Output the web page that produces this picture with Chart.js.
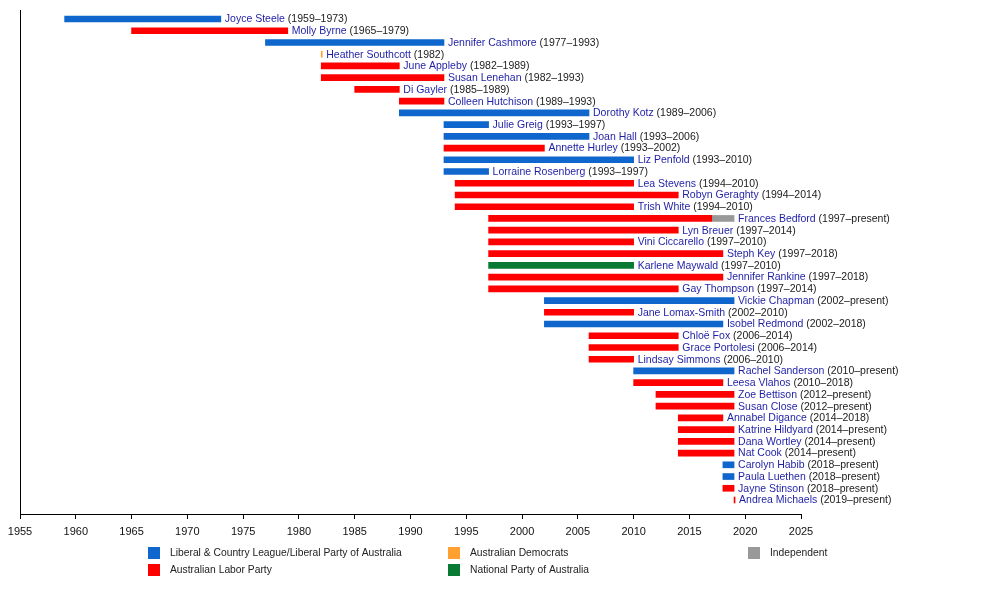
<!DOCTYPE html>
<html>
<head>
<meta charset="utf-8">
<script src="https://cdn.jsdelivr.net/npm/chart.js@4.4.1/dist/chart.umd.min.js"></script>
<style>
  html, body { margin: 0; padding: 0; background: #fff; }
  #wrap { width: 1000px; height: 594px; position: relative; }
</style>
</head>
<body>
<div id="wrap"><canvas id="c" width="1000" height="594"></canvas></div>
<script>
// ---------------- DATA ----------------
const PRESENT = 2019;
const names = [
  'Joyce Steele', 'Molly Byrne', 'Jennifer Cashmore', 'Heather Southcott', 'June Appleby',
  'Susan Lenehan', 'Di Gayler', 'Colleen Hutchison', 'Dorothy Kotz', 'Julie Greig',
  'Joan Hall', 'Annette Hurley', 'Liz Penfold', 'Lorraine Rosenberg', 'Lea Stevens',
  'Robyn Geraghty', 'Trish White', 'Frances Bedford', 'Lyn Breuer', 'Vini Ciccarello',
  'Steph Key', 'Karlene Maywald', 'Jennifer Rankine', 'Gay Thompson', 'Vickie Chapman',
  'Jane Lomax-Smith', 'Isobel Redmond', 'Chloë Fox', 'Grace Portolesi', 'Lindsay Simmons',
  'Rachel Sanderson', 'Leesa Vlahos', 'Zoe Bettison', 'Susan Close', 'Annabel Digance',
  'Katrine Hildyard', 'Dana Wortley', 'Nat Cook', 'Carolyn Habib', 'Paula Luethen',
  'Jayne Stinson', 'Andrea Michaels'
];
const startYears = [
  1959, 1965, 1977, 1982, 1982, 1982, 1985, 1989, 1989, 1993,
  1993, 1993, 1993, 1993, 1994, 1994, 1994, 1997, 1997, 1997,
  1997, 1997, 1997, 1997, 2002, 2002, 2002, 2006, 2006, 2006,
  2010, 2010, 2012, 2012, 2014, 2014, 2014, 2014, 2018, 2018,
  2018, 2019
];
// null = still serving ("present")
const endYears = [
  1973, 1979, 1993, 1982, 1989, 1993, 1989, 1993, 2006, 1997,
  2006, 2002, 2010, 1997, 2010, 2014, 2010, null, 2014, 2010,
  2018, 2010, 2018, 2014, null, 2010, 2018, 2014, 2014, 2010,
  null, 2018, null, null, 2018, null, null, null, null, null,
  null, null
];
const parties = [
  'Liberal', 'Labor', 'Liberal', 'Democrats', 'Labor', 'Labor', 'Labor', 'Labor', 'Liberal', 'Liberal',
  'Liberal', 'Labor', 'Liberal', 'Liberal', 'Labor', 'Labor', 'Labor', 'Labor', 'Labor', 'Labor',
  'Labor', 'National', 'Labor', 'Labor', 'Liberal', 'Labor', 'Liberal', 'Labor', 'Labor', 'Labor',
  'Liberal', 'Labor', 'Labor', 'Labor', 'Labor', 'Labor', 'Labor', 'Labor', 'Liberal', 'Liberal',
  'Labor', 'Labor'
];
// later change of party: member, year, new party
const partyChanges = [
  { name: 'Frances Bedford', year: 2017, party: 'Independent' }
];
const partyKeys = ['Liberal', 'Labor', 'Democrats', 'National', 'Independent'];
const partyNames = [
  'Liberal & Country League/Liberal Party of Australia',
  'Australian Labor Party',
  'Australian Democrats',
  'National Party of Australia',
  'Independent'
];
const tickStart = 1955, tickEnd = 2025, tickStep = 5;

// ---------------- STYLE ----------------
const partyColors = {
  Liberal: '#0f66cc',
  Labor: '#ff0000',
  Democrats: '#ffa030',
  National: '#087a34',
  Independent: '#999999'
};
const FONT = '"Liberation Sans", Arial, sans-serif';

// ---------------- BUILD ----------------
function segmentsFor(i) {
  const end = endYears[i] === null ? PRESENT : endYears[i];
  const ch = partyChanges.find(c => c.name === names[i]);
  if (ch) {
    return [
      { party: parties[i], s: startYears[i], e: ch.year },
      { party: ch.party, s: ch.year, e: end }
    ];
  }
  return [{ party: parties[i], s: startYears[i], e: end }];
}

const datasets = partyKeys.map(p => {
  const data = [];
  names.forEach((n, i) => {
    segmentsFor(i).forEach(seg => {
      if (seg.party === p) data.push({ x: [seg.s, seg.e], y: i });
    });
  });
  return {
    label: p,
    data,
    backgroundColor: partyColors[p],
    borderWidth: 0,
    barThickness: 6,
    minBarLength: 1,
    grouped: false
  };
});

const rowLabels = {
  id: 'rowLabels',
  afterDatasetsDraw(chart) {
    const ctx = chart.ctx;
    const xs = chart.scales.x, ys = chart.scales.y;
    ctx.save();
    ctx.textBaseline = 'middle';
    ctx.textAlign = 'left';
    names.forEach((n, i) => {
      const end = endYears[i] === null ? PRESENT : endYears[i];
      let x = xs.getPixelForValue(end) + 4;
      if (startYears[i] === end) x += 1;
      const y = ys.getPixelForValue(i) + 0.5;
      ctx.font = '10.5px ' + FONT;
      ctx.fillStyle = '#1e1ea6';
      ctx.fillText(n, x, y);
      const w = ctx.measureText(n + ' ').width;
      let yr;
      if (endYears[i] === null) yr = '(' + startYears[i] + '\u2013present)';
      else if (endYears[i] === startYears[i]) yr = '(' + startYears[i] + ')';
      else yr = '(' + startYears[i] + '\u2013' + endYears[i] + ')';
      ctx.fillStyle = '#202020';
      ctx.fillText(yr, x + w, y);
    });
    ctx.restore();
  }
};

const legendBoxes = {
  id: 'legendBoxes',
  afterDraw(chart) {
    const ctx = chart.ctx;
    const cols = [148, 448, 748];
    const rows = [547, 564];
    const order = [
      [0, 0], [0, 1], [1, 0], [1, 1], [2, 0]
    ];
    ctx.save();
    ctx.textBaseline = 'middle';
    ctx.textAlign = 'left';
    ctx.font = '10.3px ' + FONT;
    partyKeys.forEach((p, k) => {
      const [c, r] = order[k];
      ctx.fillStyle = partyColors[p];
      ctx.fillRect(cols[c], rows[r], 12, 12);
      ctx.fillStyle = '#222';
      ctx.fillText(partyNames[k], cols[c] + 22, rows[r] + 6.5);
    });
    ctx.restore();
  }
};

new Chart(document.getElementById('c'), {
  type: 'bar',
  data: { datasets },
  options: {
    indexAxis: 'y',
    responsive: false,
    animation: false,
    devicePixelRatio: 1,
    layout: { padding: { left: 20, right: 199, top: 10, bottom: 50 } },
    plugins: { legend: { display: false }, tooltip: { enabled: false } },
    scales: {
      x: {
        type: 'linear',
        position: 'bottom',
        min: tickStart,
        max: tickEnd,
        afterFit: s => { s.height = 30; },
        afterBuildTicks: s => {
          const t = [];
          for (let v = tickStart; v <= tickEnd; v += tickStep) t.push({ value: v });
          s.ticks = t;
        },
        grid: { display: true, drawOnChartArea: false, drawTicks: true, tickLength: 5, color: '#000', lineWidth: 1 },
        border: { display: true, color: '#000', width: 1 },
        ticks: {
          callback: v => String(v),
          color: '#111',
          font: { family: FONT, size: 11 },
          padding: 6,
          maxRotation: 0,
          autoSkip: false
        }
      },
      y: {
        type: 'linear',
        reverse: true,
        offset: false,
        min: -0.767,
        max: 42.193,
        afterFit: s => { s.width = 0; },
        grid: { display: false },
        border: { display: true, color: '#000', width: 1 },
        ticks: { display: false }
      }
    }
  },
  plugins: [rowLabels, legendBoxes]
});
</script>
</body>
</html>
